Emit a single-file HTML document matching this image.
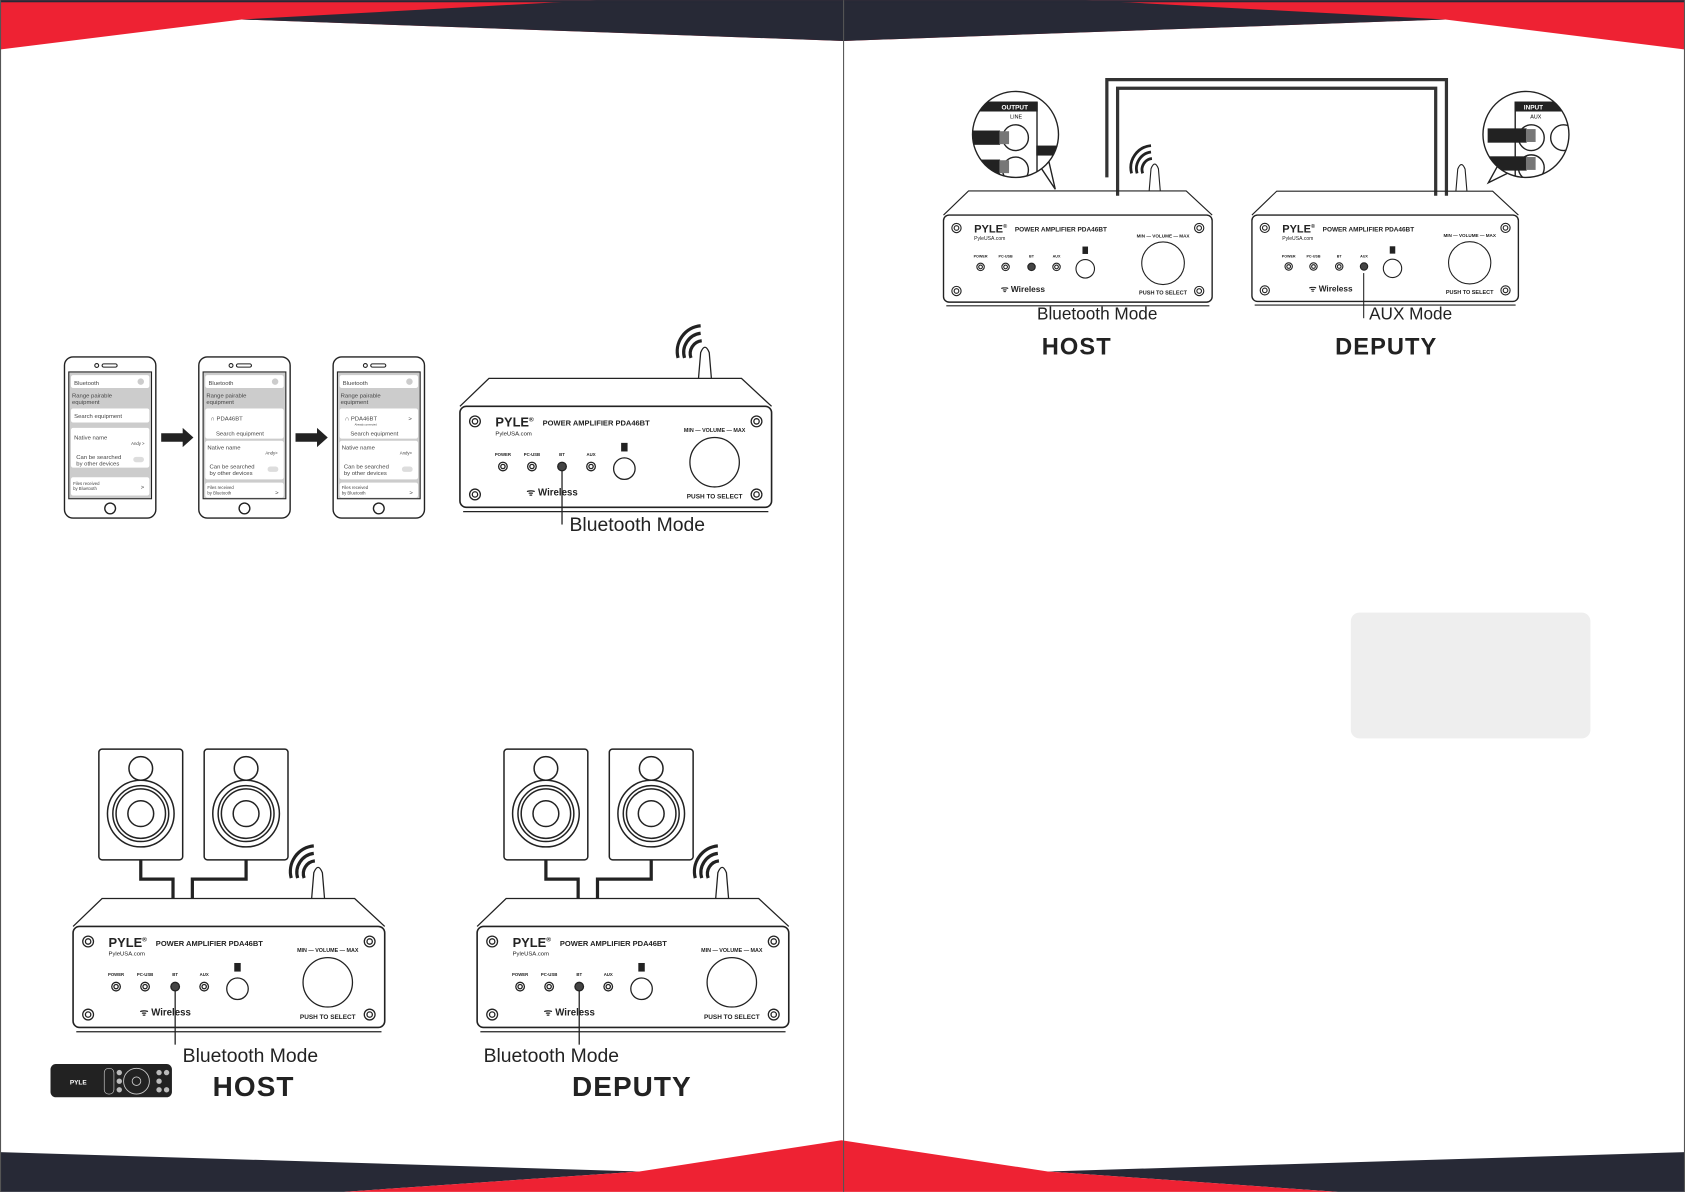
<!DOCTYPE html>
<html><head><meta charset="utf-8"><style>
html,body{margin:0;padding:0;background:#fff}
svg{display:block}
text{font-family:"Liberation Sans",sans-serif}
</style></head><body>
<svg width="1685" height="1192" viewBox="0 0 1568 1109" xmlns="http://www.w3.org/2000/svg">
<rect width="1568" height="1109" fill="#fff"/>
<!-- top bar -->
<polygon points="0,0 1568,0 1568,46 1345,18 785,38 225,18 0,46" fill="#ee2233"/>
<polygon points="555,0 1010,0 1345,18 785,38 225,18" fill="#272936"/>
<rect x="0" y="0" width="1568" height="2" fill="#272936"/>
<!-- bottom bar -->
<polygon points="0,1072 595,1090 320,1109 0,1109" fill="#272936"/>
<polygon points="1568,1072 975,1090 1245,1109 1568,1109" fill="#272936"/>
<polygon points="320,1109 595,1090 783,1061 975,1090 1245,1109" fill="#ee2233"/>
<line x1="785" y1="0" x2="785" y2="1109" stroke="#555" stroke-width="1"/>
<line x1="0.5" y1="0" x2="0.5" y2="1109" stroke="#555" stroke-width="1"/>
<line x1="1567.5" y1="0" x2="1567.5" y2="1109" stroke="#555" stroke-width="1"/>

<!-- phones -->
<g font-size="5.5" fill="#444" stroke="none">
 <g transform="translate(60,332)">
  <rect x="0" y="0" width="85" height="150" rx="8" fill="#fff" stroke="#222" stroke-width="1.3"/>
  <circle cx="30" cy="8" r="1.8" fill="none" stroke="#222"/><rect x="35" y="6.5" width="14" height="3" rx="1.5" fill="none" stroke="#222"/>
  <rect x="4" y="14" width="77" height="118" fill="#ccc" stroke="#222"/>
  <rect x="6" y="17" width="73" height="12" rx="2" fill="#fff"/><text x="9" y="26">Bluetooth</text><circle cx="71" cy="23" r="3" fill="#ccc"/>
  <text x="7" y="38">Range pairable</text><text x="7" y="44">equipment</text>
  <rect x="6" y="48" width="73" height="13" rx="2" fill="#fff"/><text x="9" y="57">Search equipment</text>
  <rect x="6" y="66" width="73" height="37" rx="2" fill="#fff"/><text x="9" y="77">Native name</text><text x="62" y="82" font-size="4">Andy &gt;</text><text x="11" y="95">Can be searched</text><text x="11" y="101">by other devices</text><rect x="64" y="93" width="10" height="5" rx="2.5" fill="#ddd"/>
  <rect x="6" y="112" width="73" height="17" rx="2" fill="#fff"/><text x="8" y="119" font-size="4">Files received</text><text x="8" y="124" font-size="4">by Bluetooth</text><text x="71" y="123">&gt;</text>
  <circle cx="42.5" cy="141" r="5" fill="none" stroke="#222" stroke-width="1.3"/>
 </g>
 <g transform="translate(185,332)">
  <rect x="0" y="0" width="85" height="150" rx="8" fill="#fff" stroke="#222" stroke-width="1.3"/>
  <circle cx="30" cy="8" r="1.8" fill="none" stroke="#222"/><rect x="35" y="6.5" width="14" height="3" rx="1.5" fill="none" stroke="#222"/>
  <rect x="4" y="14" width="77" height="118" fill="#ccc" stroke="#222"/>
  <rect x="6" y="17" width="73" height="12" rx="2" fill="#fff"/><text x="9" y="26">Bluetooth</text><circle cx="71" cy="23" r="3" fill="#ccc"/>
  <text x="7" y="38">Range pairable</text><text x="7" y="44">equipment</text>
  <rect x="6" y="48" width="73" height="28" rx="2" fill="#fff"/><text x="11" y="59">∩ PDA46BT</text><text x="16" y="73">Search equipment</text>
  <rect x="6" y="78" width="73" height="36" rx="2" fill="#fff"/><text x="8" y="86">Native name</text><text x="62" y="91" font-size="4">Andy&gt;</text><text x="10" y="104">Can be searched</text><text x="10" y="110">by other devices</text><rect x="64" y="102" width="10" height="5" rx="2.5" fill="#ddd"/>
  <rect x="6" y="117" width="73" height="14" rx="2" fill="#fff"/><text x="8" y="123" font-size="4">Files received</text><text x="8" y="128" font-size="4">by Bluetooth</text><text x="71" y="128">&gt;</text>
  <circle cx="42.5" cy="141" r="5" fill="none" stroke="#222" stroke-width="1.3"/>
 </g>
 <g transform="translate(310,332)">
  <rect x="0" y="0" width="85" height="150" rx="8" fill="#fff" stroke="#222" stroke-width="1.3"/>
  <circle cx="30" cy="8" r="1.8" fill="none" stroke="#222"/><rect x="35" y="6.5" width="14" height="3" rx="1.5" fill="none" stroke="#222"/>
  <rect x="4" y="14" width="77" height="118" fill="#ccc" stroke="#222"/>
  <rect x="6" y="17" width="73" height="12" rx="2" fill="#fff"/><text x="9" y="26">Bluetooth</text><circle cx="71" cy="23" r="3" fill="#ccc"/>
  <text x="7" y="38">Range pairable</text><text x="7" y="44">equipment</text>
  <rect x="6" y="48" width="73" height="28" rx="2" fill="#fff"/><text x="11" y="59">∩ PDA46BT</text><text x="70" y="59">&gt;</text><text x="20" y="64" font-size="2.5">Already connected</text><text x="16" y="73">Search equipment</text>
  <rect x="6" y="78" width="73" height="36" rx="2" fill="#fff"/><text x="8" y="86">Native name</text><text x="62" y="91" font-size="4">Andy&gt;</text><text x="10" y="104">Can be searched</text><text x="10" y="110">by other devices</text><rect x="64" y="102" width="10" height="5" rx="2.5" fill="#ddd"/>
  <rect x="6" y="117" width="73" height="14" rx="2" fill="#fff"/><text x="8" y="123" font-size="4">Files received</text><text x="8" y="128" font-size="4">by Bluetooth</text><text x="71" y="128">&gt;</text>
  <circle cx="42.5" cy="141" r="5" fill="none" stroke="#222" stroke-width="1.3"/>
 </g>
</g>
<!-- arrows -->
<polygon points="150,403 170,403 170,398 180,407 170,416 170,411 150,411" fill="#222"/>
<polygon points="275,403 295,403 295,398 305,407 295,416 295,411 275,411" fill="#222"/>

<!-- speakers -->
<g fill="none" stroke="#222" stroke-width="1.4">
 <g transform="translate(92,697)">
  <rect width="78" height="103" rx="3" fill="#fff"/><circle cx="39" cy="18" r="11"/><circle cx="39" cy="60" r="31"/><circle cx="39" cy="60" r="26"/><circle cx="39" cy="60" r="23"/><circle cx="39" cy="60" r="12"/>
 </g>
 <g transform="translate(190,697)">
  <rect width="78" height="103" rx="3" fill="#fff"/><circle cx="39" cy="18" r="11"/><circle cx="39" cy="60" r="31"/><circle cx="39" cy="60" r="26"/><circle cx="39" cy="60" r="23"/><circle cx="39" cy="60" r="12"/>
 </g>
 <g transform="translate(469,697)">
  <rect width="78" height="103" rx="3" fill="#fff"/><circle cx="39" cy="18" r="11"/><circle cx="39" cy="60" r="31"/><circle cx="39" cy="60" r="26"/><circle cx="39" cy="60" r="23"/><circle cx="39" cy="60" r="12"/>
 </g>
 <g transform="translate(567,697)">
  <rect width="78" height="103" rx="3" fill="#fff"/><circle cx="39" cy="18" r="11"/><circle cx="39" cy="60" r="31"/><circle cx="39" cy="60" r="26"/><circle cx="39" cy="60" r="23"/><circle cx="39" cy="60" r="12"/>
 </g>
 <polyline points="131,800 131,818 161,818 161,836" stroke-width="3"/>
 <polyline points="229,800 229,818 179,818 179,836" stroke-width="3"/>
 <polyline points="508,800 508,818 538,818 538,836" stroke-width="3"/>
 <polyline points="606,800 606,818 556,818 556,836" stroke-width="3"/>
</g>

<!-- cable top right -->
<g fill="none" stroke="#333" stroke-width="3">
 <polyline points="1030,165 1030,74 1346,74 1346,182"/>
 <polyline points="1040,182 1040,82 1336,82 1336,182"/>
</g>
<!-- insets -->
<g stroke="#222" stroke-width="1.3">
 <path d="M968,155 L982,176 L976,150" fill="#fff"/>
 <circle cx="945" cy="125" r="40" fill="#fff"/>
 <clipPath id="c1"><circle cx="945" cy="125" r="40"/></clipPath>
 <g clip-path="url(#c1)">
  <rect x="905" y="95" width="60" height="8" fill="#222"/><text x="932" y="102" font-size="6" fill="#fff" stroke="none" font-weight="bold">OUTPUT</text>
  <text x="940" y="110" font-size="5" stroke="none">LINE</text>
  <circle cx="945" cy="128" r="12" fill="none"/><circle cx="945" cy="158" r="12" fill="none"/>
  <rect x="900" y="122" width="30" height="12" fill="#222"/><rect x="930" y="122" width="9" height="12" fill="#777" stroke="none"/>
  <rect x="900" y="149" width="30" height="12" fill="#222"/><rect x="930" y="149" width="9" height="12" fill="#777" stroke="none"/>
  <line x1="965" y1="95" x2="965" y2="170"/><rect x="965" y="136" width="20" height="8" fill="#222"/>
 </g>
 <path d="M1396,150 L1385,170 L1405,160" fill="#fff"/>
 <circle cx="1420" cy="125" r="40" fill="#fff"/>
 <clipPath id="c2"><circle cx="1420" cy="125" r="40"/></clipPath>
 <g clip-path="url(#c2)">
  <rect x="1410" y="95" width="60" height="8" fill="#222"/><text x="1418" y="102" font-size="6" fill="#fff" stroke="none" font-weight="bold">INPUT</text>
  <text x="1424" y="110" font-size="5" stroke="none">AUX</text>
  <line x1="1410" y1="95" x2="1410" y2="170"/>
  <circle cx="1425" cy="128" r="12" fill="none"/><circle cx="1425" cy="156" r="12" fill="none"/><circle cx="1455" cy="128" r="12" fill="none"/>
  <rect x="1385" y="120" width="35" height="12" fill="#222"/><rect x="1420" y="120" width="9" height="12" fill="#777" stroke="none"/>
  <rect x="1385" y="146" width="35" height="12" fill="#222"/><rect x="1420" y="146" width="9" height="12" fill="#777" stroke="none"/>
 </g>
</g>

<g fill="none" stroke="#222" stroke-width="1.2">
<!-- AMP 1 -->
<g transform="translate(428,378)">
 <path d="M222,-26 L224,-50 Q228,-60 232,-50 L234,-26" fill="#fff"/>
 <path d="M215,-45 a12,12 0 0 1 10,-16 M209,-45 a18,18 0 0 1 15,-23 M203,-45 a24,24 0 0 1 21,-30" stroke-width="3"/>
 <path d="M0,0 L27,-26 L262,-26 L290,0"/>
 <rect x="0" y="0" width="290" height="94" rx="6" stroke-width="1.5"/>
 <line x1="3" y1="98" x2="287" y2="98"/>
 <circle cx="14" cy="14" r="5"/><circle cx="14" cy="14" r="2.5"/><circle cx="276" cy="14" r="5"/><circle cx="276" cy="14" r="2.5"/>
 <circle cx="14" cy="82" r="5"/><circle cx="14" cy="82" r="2.5"/><circle cx="276" cy="82" r="5"/><circle cx="276" cy="82" r="2.5"/>
 <g stroke="none" fill="#222">
  <text x="33" y="19" font-size="12" font-weight="bold">PYLE<tspan font-size="6" dy="-5">®</tspan></text>
  <text x="77" y="18" font-size="7" font-weight="bold">POWER AMPLIFIER PDA46BT</text>
  <text x="33" y="27" font-size="5.5">PyleUSA.com</text>
  <text x="40" y="46" font-size="4" text-anchor="middle" font-weight="bold">POWER</text>
  <text x="67" y="46" font-size="4" text-anchor="middle" font-weight="bold">PC-USB</text>
  <text x="95" y="46" font-size="4" text-anchor="middle" font-weight="bold">BT</text>
  <text x="122" y="46" font-size="4" text-anchor="middle" font-weight="bold">AUX</text>
  <rect x="150" y="34" width="6" height="8"/>
  <text x="62" y="83" font-size="9" font-weight="bold">ᯤ Wireless</text>
  <text x="237" y="86" font-size="6" text-anchor="middle" font-weight="bold">PUSH TO SELECT</text>
  <text x="237" y="24" font-size="5" text-anchor="middle" font-weight="bold">MIN — VOLUME — MAX</text>
 </g>
 <circle cx="40" cy="56" r="4"/><circle cx="40" cy="56" r="2"/><circle cx="67" cy="56" r="4"/><circle cx="67" cy="56" r="2"/><circle cx="95" cy="56" r="4" fill="#444"/><circle cx="122" cy="56" r="4"/><circle cx="122" cy="56" r="2"/>
 <circle cx="153" cy="58" r="10"/><circle cx="237" cy="52" r="23"/>
 <line x1="95" y1="60" x2="95" y2="110"/>
 <text x="102" y="116" font-size="18" stroke="none" fill="#222">Bluetooth Mode</text>
</g>
<!-- AMP host bottom -->
<g transform="translate(68,862)">
 <path d="M222,-26 L224,-50 Q228,-60 232,-50 L234,-26" fill="#fff"/>
 <path d="M215,-45 a12,12 0 0 1 10,-16 M209,-45 a18,18 0 0 1 15,-23 M203,-45 a24,24 0 0 1 21,-30" stroke-width="3"/>
 <path d="M0,0 L27,-26 L262,-26 L290,0"/>
 <rect x="0" y="0" width="290" height="94" rx="6" stroke-width="1.5"/>
 <line x1="3" y1="98" x2="287" y2="98"/>
 <circle cx="14" cy="14" r="5"/><circle cx="14" cy="14" r="2.5"/><circle cx="276" cy="14" r="5"/><circle cx="276" cy="14" r="2.5"/>
 <circle cx="14" cy="82" r="5"/><circle cx="14" cy="82" r="2.5"/><circle cx="276" cy="82" r="5"/><circle cx="276" cy="82" r="2.5"/>
 <g stroke="none" fill="#222">
  <text x="33" y="19" font-size="12" font-weight="bold">PYLE<tspan font-size="6" dy="-5">®</tspan></text>
  <text x="77" y="18" font-size="7" font-weight="bold">POWER AMPLIFIER PDA46BT</text>
  <text x="33" y="27" font-size="5.5">PyleUSA.com</text>
  <text x="40" y="46" font-size="4" text-anchor="middle" font-weight="bold">POWER</text>
  <text x="67" y="46" font-size="4" text-anchor="middle" font-weight="bold">PC-USB</text>
  <text x="95" y="46" font-size="4" text-anchor="middle" font-weight="bold">BT</text>
  <text x="122" y="46" font-size="4" text-anchor="middle" font-weight="bold">AUX</text>
  <rect x="150" y="34" width="6" height="8"/>
  <text x="62" y="83" font-size="9" font-weight="bold">ᯤ Wireless</text>
  <text x="237" y="86" font-size="6" text-anchor="middle" font-weight="bold">PUSH TO SELECT</text>
  <text x="237" y="24" font-size="5" text-anchor="middle" font-weight="bold">MIN — VOLUME — MAX</text>
 </g>
 <circle cx="40" cy="56" r="4"/><circle cx="40" cy="56" r="2"/><circle cx="67" cy="56" r="4"/><circle cx="67" cy="56" r="2"/><circle cx="95" cy="56" r="4" fill="#444"/><circle cx="122" cy="56" r="4"/><circle cx="122" cy="56" r="2"/>
 <circle cx="153" cy="58" r="10"/><circle cx="237" cy="52" r="23"/>
 <line x1="95" y1="60" x2="95" y2="110"/>
 <text x="102" y="126" font-size="18" stroke="none" fill="#222">Bluetooth Mode</text>
</g>
<!-- AMP deputy bottom -->
<g transform="translate(444,862)">
 <path d="M222,-26 L224,-50 Q228,-60 232,-50 L234,-26" fill="#fff"/>
 <path d="M215,-45 a12,12 0 0 1 10,-16 M209,-45 a18,18 0 0 1 15,-23 M203,-45 a24,24 0 0 1 21,-30" stroke-width="3"/>
 <path d="M0,0 L27,-26 L262,-26 L290,0"/>
 <rect x="0" y="0" width="290" height="94" rx="6" stroke-width="1.5"/>
 <line x1="3" y1="98" x2="287" y2="98"/>
 <circle cx="14" cy="14" r="5"/><circle cx="14" cy="14" r="2.5"/><circle cx="276" cy="14" r="5"/><circle cx="276" cy="14" r="2.5"/>
 <circle cx="14" cy="82" r="5"/><circle cx="14" cy="82" r="2.5"/><circle cx="276" cy="82" r="5"/><circle cx="276" cy="82" r="2.5"/>
 <g stroke="none" fill="#222">
  <text x="33" y="19" font-size="12" font-weight="bold">PYLE<tspan font-size="6" dy="-5">®</tspan></text>
  <text x="77" y="18" font-size="7" font-weight="bold">POWER AMPLIFIER PDA46BT</text>
  <text x="33" y="27" font-size="5.5">PyleUSA.com</text>
  <text x="40" y="46" font-size="4" text-anchor="middle" font-weight="bold">POWER</text>
  <text x="67" y="46" font-size="4" text-anchor="middle" font-weight="bold">PC-USB</text>
  <text x="95" y="46" font-size="4" text-anchor="middle" font-weight="bold">BT</text>
  <text x="122" y="46" font-size="4" text-anchor="middle" font-weight="bold">AUX</text>
  <rect x="150" y="34" width="6" height="8"/>
  <text x="62" y="83" font-size="9" font-weight="bold">ᯤ Wireless</text>
  <text x="237" y="86" font-size="6" text-anchor="middle" font-weight="bold">PUSH TO SELECT</text>
  <text x="237" y="24" font-size="5" text-anchor="middle" font-weight="bold">MIN — VOLUME — MAX</text>
 </g>
 <circle cx="40" cy="56" r="4"/><circle cx="40" cy="56" r="2"/><circle cx="67" cy="56" r="4"/><circle cx="67" cy="56" r="2"/><circle cx="95" cy="56" r="4" fill="#444"/><circle cx="122" cy="56" r="4"/><circle cx="122" cy="56" r="2"/>
 <circle cx="153" cy="58" r="10"/><circle cx="237" cy="52" r="23"/>
 <line x1="95" y1="60" x2="95" y2="110"/>
 <text x="6" y="126" font-size="18" stroke="none" fill="#222">Bluetooth Mode</text>
</g>
<!-- AMP host top right -->
<g transform="translate(878,200) scale(0.862)">
 <path d="M222,-26 L224,-50 Q228,-60 232,-50 L234,-26" fill="#fff"/>
 <path d="M215,-45 a12,12 0 0 1 10,-16 M209,-45 a18,18 0 0 1 15,-23 M203,-45 a24,24 0 0 1 21,-30" stroke-width="3"/>
 <path d="M0,0 L27,-26 L262,-26 L290,0"/>
 <rect x="0" y="0" width="290" height="94" rx="6" stroke-width="1.5"/>
 <line x1="3" y1="98" x2="287" y2="98"/>
 <circle cx="14" cy="14" r="5"/><circle cx="14" cy="14" r="2.5"/><circle cx="276" cy="14" r="5"/><circle cx="276" cy="14" r="2.5"/>
 <circle cx="14" cy="82" r="5"/><circle cx="14" cy="82" r="2.5"/><circle cx="276" cy="82" r="5"/><circle cx="276" cy="82" r="2.5"/>
 <g stroke="none" fill="#222">
  <text x="33" y="19" font-size="12" font-weight="bold">PYLE<tspan font-size="6" dy="-5">®</tspan></text>
  <text x="77" y="18" font-size="7" font-weight="bold">POWER AMPLIFIER PDA46BT</text>
  <text x="33" y="27" font-size="5.5">PyleUSA.com</text>
  <text x="40" y="46" font-size="4" text-anchor="middle" font-weight="bold">POWER</text>
  <text x="67" y="46" font-size="4" text-anchor="middle" font-weight="bold">PC-USB</text>
  <text x="95" y="46" font-size="4" text-anchor="middle" font-weight="bold">BT</text>
  <text x="122" y="46" font-size="4" text-anchor="middle" font-weight="bold">AUX</text>
  <rect x="150" y="34" width="6" height="8"/>
  <text x="62" y="83" font-size="9" font-weight="bold">ᯤ Wireless</text>
  <text x="237" y="86" font-size="6" text-anchor="middle" font-weight="bold">PUSH TO SELECT</text>
  <text x="237" y="24" font-size="5" text-anchor="middle" font-weight="bold">MIN — VOLUME — MAX</text>
 </g>
 <circle cx="40" cy="56" r="4"/><circle cx="40" cy="56" r="2"/><circle cx="67" cy="56" r="4"/><circle cx="67" cy="56" r="2"/><circle cx="95" cy="56" r="4" fill="#444"/><circle cx="122" cy="56" r="4"/><circle cx="122" cy="56" r="2"/>
 <circle cx="153" cy="58" r="10"/><circle cx="237" cy="52" r="23"/>
</g>
<!-- AMP deputy top right -->
<g transform="translate(1165,200) scale(0.855)">
 <path d="M222,-26 L224,-50 Q228,-60 232,-50 L234,-26" fill="#fff"/>
 <path d="M0,0 L27,-26 L262,-26 L290,0"/>
 <rect x="0" y="0" width="290" height="94" rx="6" stroke-width="1.5"/>
 <line x1="3" y1="98" x2="287" y2="98"/>
 <circle cx="14" cy="14" r="5"/><circle cx="14" cy="14" r="2.5"/><circle cx="276" cy="14" r="5"/><circle cx="276" cy="14" r="2.5"/>
 <circle cx="14" cy="82" r="5"/><circle cx="14" cy="82" r="2.5"/><circle cx="276" cy="82" r="5"/><circle cx="276" cy="82" r="2.5"/>
 <g stroke="none" fill="#222">
  <text x="33" y="19" font-size="12" font-weight="bold">PYLE<tspan font-size="6" dy="-5">®</tspan></text>
  <text x="77" y="18" font-size="7" font-weight="bold">POWER AMPLIFIER PDA46BT</text>
  <text x="33" y="27" font-size="5.5">PyleUSA.com</text>
  <text x="40" y="46" font-size="4" text-anchor="middle" font-weight="bold">POWER</text>
  <text x="67" y="46" font-size="4" text-anchor="middle" font-weight="bold">PC-USB</text>
  <text x="95" y="46" font-size="4" text-anchor="middle" font-weight="bold">BT</text>
  <text x="122" y="46" font-size="4" text-anchor="middle" font-weight="bold">AUX</text>
  <rect x="150" y="34" width="6" height="8"/>
  <text x="62" y="83" font-size="9" font-weight="bold">ᯤ Wireless</text>
  <text x="237" y="86" font-size="6" text-anchor="middle" font-weight="bold">PUSH TO SELECT</text>
  <text x="237" y="24" font-size="5" text-anchor="middle" font-weight="bold">MIN — VOLUME — MAX</text>
 </g>
 <circle cx="40" cy="56" r="4"/><circle cx="40" cy="56" r="2"/><circle cx="67" cy="56" r="4"/><circle cx="67" cy="56" r="2"/><circle cx="95" cy="56" r="4"/><circle cx="95" cy="56" r="2"/><circle cx="122" cy="56" r="4" fill="#444"/>
 <circle cx="153" cy="58" r="10"/><circle cx="237" cy="52" r="23"/>
</g>
</g>
<!-- top-right labels -->
<line x1="1269" y1="254" x2="1269" y2="296" stroke="#222" stroke-width="1"/>
<text x="1274" y="297" font-size="16" fill="#222">AUX Mode</text>
<text x="965" y="297" font-size="16" fill="#222">Bluetooth Mode</text>
<text x="1002" y="330" font-size="22" font-weight="bold" fill="#222" text-anchor="middle" letter-spacing="1">HOST</text>
<text x="1290" y="330" font-size="22" font-weight="bold" fill="#222" text-anchor="middle" letter-spacing="1">DEPUTY</text>
<text x="236" y="1020" font-size="26" font-weight="bold" fill="#222" text-anchor="middle" letter-spacing="1">HOST</text>
<text x="588" y="1020" font-size="26" font-weight="bold" fill="#222" text-anchor="middle" letter-spacing="1">DEPUTY</text>

<!-- grey box -->
<rect x="1257" y="570" width="223" height="117" rx="8" fill="#eeeeee"/>

<!-- remote -->
<g transform="translate(47,990)">
 <rect width="113" height="31" rx="5" fill="#222"/>
 <text x="18" y="19" font-size="6" fill="#fff" font-weight="bold">PYLE</text>
 <rect x="50" y="4" width="9" height="24" rx="4" fill="none" stroke="#ccc" stroke-width="0.6"/>
 <g fill="#bbb"><circle cx="64" cy="8" r="2.5"/><circle cx="64" cy="16" r="2.5"/><circle cx="64" cy="24" r="2.5"/><circle cx="101" cy="8" r="2.5"/><circle cx="101" cy="16" r="2.5"/><circle cx="101" cy="24" r="2.5"/><circle cx="108" cy="8" r="2.5"/><circle cx="108" cy="24" r="2.5"/></g>
 <circle cx="80" cy="16" r="12" fill="none" stroke="#ccc" stroke-width="0.8"/><circle cx="80" cy="16" r="4" fill="none" stroke="#ccc" stroke-width="0.8"/>
</g>
</svg>
</body></html>
